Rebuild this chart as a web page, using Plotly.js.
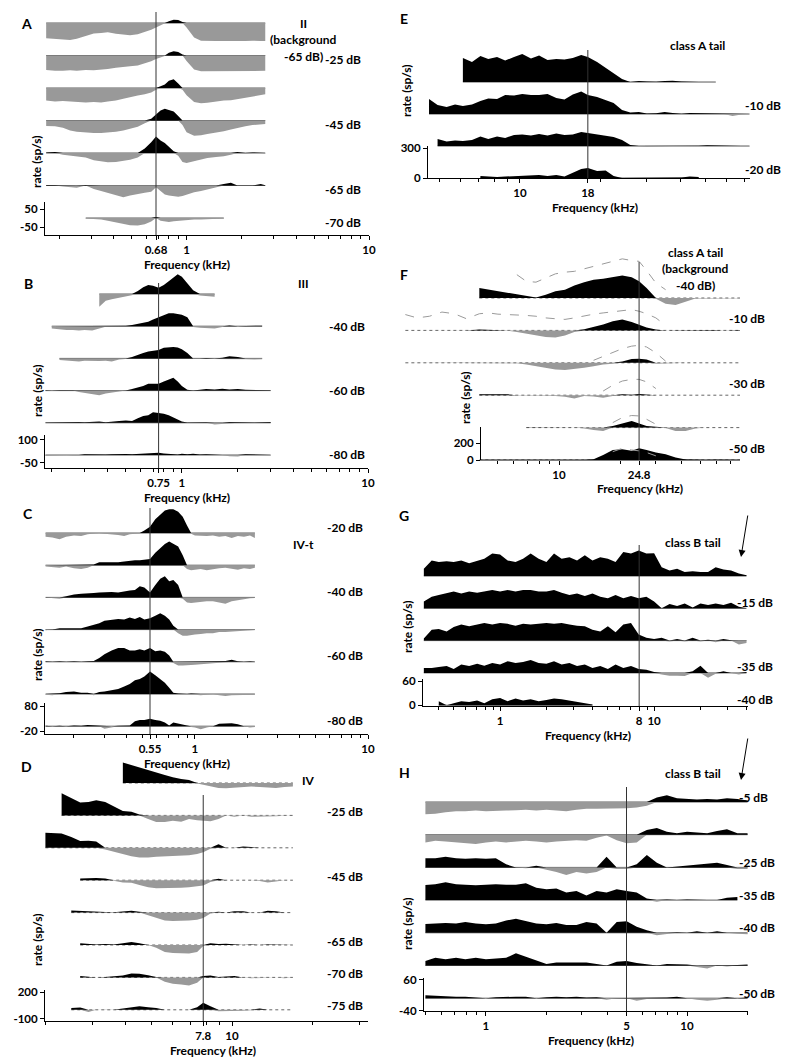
<!DOCTYPE html>
<html>
<head>
<meta charset="utf-8">
<script src="https://cdn.plot.ly/plotly-3.0.1.min.js"></script>
<style>
  html, body { margin: 0; padding: 0; background: #fff; }
  #chart { width: 800px; height: 1061px; }
</style>
</head>
<body>
<div id="chart"></div>
<script>
// ---- data: rate change (sp/s) vs tone frequency (kHz), one row per level ----

var aFreq = [0.17,0.19,0.21,0.23,0.25,0.28,0.31,0.34,0.37,0.41,0.45,0.49,0.54,0.59,0.64,0.68,0.72,0.76,0.8,0.85,0.9,0.95,1.0,1.1,1.2,1.3,1.45,1.6,1.75,1.9,2.1,2.3,2.55,2.7];
var aRates = [
  [-85,-88,-92,-95,-88,-72,-58,-55,-52,-60,-65,-68,-62,-50,-38,-25,-12,-2,10,18,16,5,-25,-80,-98,-100,-100,-100,-98,-100,-100,-98,-100,-100],
  [-80,-85,-85,-82,-85,-80,-82,-80,-75,-68,-62,-60,-55,-45,-32,-20,-10,-3,15,24,20,5,-30,-78,-88,-88,-85,-88,-85,-88,-85,-88,-85,-85],
  [-70,-75,-72,-75,-78,-80,-78,-80,-75,-70,-60,-50,-42,-35,-25,-10,10,20,40,48,25,-10,-40,-78,-85,-82,-75,-70,-68,-62,-55,-48,-40,-35],
  [-30,-32,-40,-55,-62,-68,-70,-70,-68,-62,-55,-45,-35,-15,10,35,55,65,60,50,25,-25,-65,-85,-82,-75,-68,-60,-50,-40,-32,-25,-22,-20],
  [3,5,-10,-15,-18,-25,-40,-48,-52,-50,-45,-38,-25,25,60,92,70,55,35,10,-15,-50,-55,-45,-35,-28,-22,-18,-10,5,-5,3,0,-3],
  [3,2,-5,-10,-12,3,-20,-30,-40,-55,-65,-55,-45,-40,-35,-10,-30,-50,-55,-60,-62,-58,-50,-38,-30,-22,-10,8,15,0,-3,0,8,2],
  [null,null,null,null,null,-3,-5,-8,-15,-25,-32,-40,-42,-35,-20,5,-15,-20,-22,-18,-15,-12,-10,-8,-8,-6,-5,-3,null,null,null,null,null,null]
];
var aLevels = ['', '-25 dB', '', '-45 dB', '', '-65 dB', '-70 dB'];
var aNotes = ['II', '(background', '-65 dB)'];
var aTicks = [0.68, 1, 10];
var aRateTicks = [50, -50];

var bFreq = [0.185,0.2,0.22,0.24,0.26,0.28,0.3,0.33,0.36,0.39,0.42,0.46,0.5,0.54,0.58,0.62,0.66,0.7,0.75,0.8,0.85,0.9,0.95,1.0,1.07,1.15,1.25,1.35,1.5,1.65,1.8,2.0,2.2,2.45,2.7,3.0];
var bRates = [
  [null,null,null,null,null,null,null,null,-85,-45,-35,-25,-18,-8,20,45,60,55,42,60,85,110,130,115,75,25,-10,-15,-18,null,null,null,null,null,null,null],
  [null,-15,-22,-25,-25,-28,-25,-28,-15,-3,-2,-2,3,8,15,25,30,45,60,70,85,85,80,75,60,-5,-10,-12,-15,-5,5,-3,2,-5,3,null],
  [null,null,-10,-12,-18,-20,-15,-18,-18,-15,-20,-8,-3,10,25,35,45,50,55,70,75,75,72,60,35,-5,-5,3,-3,5,15,10,-5,-8,-5,null],
  [3,-3,2,2,3,-10,-15,-20,-30,-20,-15,-5,0,10,20,30,45,45,45,60,75,85,60,30,5,-3,5,10,8,12,8,10,5,3,0,2],
  [2,3,-3,3,5,6,3,5,8,3,5,12,15,12,30,45,50,70,65,60,50,35,20,8,2,3,0,3,-12,-8,5,3,3,2,3,6],
  [-5,-3,-5,0,-3,-3,5,3,5,3,5,3,6,5,8,10,12,15,15,10,8,5,3,8,5,8,3,5,-3,0,-8,-10,5,3,2,-3]
];
var bLevels = ['', '-40 dB', '', '-60 dB', '', '-80 dB'];
var bNotes = ['III'];
var bTicks = [0.75, 1, 10];
var bRateTicks = [100, -50];

var cFreq = [0.137,0.15,0.165,0.18,0.2,0.22,0.24,0.26,0.28,0.3,0.33,0.36,0.39,0.42,0.45,0.48,0.51,0.55,0.59,0.63,0.67,0.71,0.75,0.8,0.85,0.9,0.95,1.0,1.08,1.17,1.27,1.38,1.5,1.63,1.77,1.92,2.08,2.22];
var cRates = [
  [-15,-18,-25,-15,-10,-12,-5,-3,3,-3,-5,-8,-12,-5,-3,0,10,25,55,75,90,95,95,85,65,30,-3,-10,-12,-12,-10,-15,-12,-20,-12,-15,-10,-20],
  [-5,-8,-10,-5,-12,-15,-10,3,12,12,10,12,15,18,20,20,22,25,50,70,85,95,85,75,40,-15,-20,-18,-15,-20,-15,-12,-10,-15,-18,-12,-15,-10],
  [0,-2,-5,5,12,15,18,18,20,22,22,20,25,28,30,45,40,20,50,75,85,65,70,50,-5,-20,-22,-20,-20,-15,-15,-20,-25,-15,-10,-5,-3,-2],
  [-3,0,5,5,2,5,12,18,25,35,40,42,40,48,42,50,40,45,55,65,55,40,15,-15,-25,-25,-22,-20,-18,-15,-15,-10,-10,-8,-5,-5,-3,-2],
  [2,0,2,0,2,0,2,3,15,30,45,55,55,45,45,50,45,55,42,45,40,25,-5,-15,-15,-15,-12,-12,-10,-8,-5,-2,3,8,2,0,2,0],
  [-3,-5,3,8,10,5,5,-5,8,10,15,20,30,40,55,60,70,90,75,60,45,25,5,2,0,0,2,-3,-5,-2,0,-5,-8,-5,-5,-3,-2,-3],
  [2,0,2,-3,3,2,5,3,2,-10,-5,2,3,3,20,25,25,30,25,22,15,3,15,10,5,3,-3,-5,-12,-5,0,10,12,12,8,0,-5,-3]
];
var cLevels = ['-20 dB', '', '-40 dB', '', '-60 dB', '', '-80 dB'];
var cNotes = ['IV-t'];
var cTicks = [0.55, 1, 10];
var cRateTicks = [80, -20];

var dFreq = [2.0,2.15,2.3,2.5,2.7,2.9,3.1,3.35,3.6,3.9,4.2,4.5,4.85,5.2,5.6,6.0,6.45,6.9,7.4,7.8,8.3,8.9,9.5,10.2,11,11.8,12.7,13.6,14.6,15.7,16.9,17.5];
var dRates = [
  [null,null,null,null,null,null,null,null,null,230,200,180,150,115,90,65,45,35,-5,-20,-40,-55,-60,-55,-50,-40,-45,-50,-55,-45,-40,null],
  [null,null,250,200,145,150,170,150,100,50,40,10,-40,-75,-75,-60,-70,-40,-55,-60,-65,-40,0,-15,0,-15,-15,-10,-10,-5,0,null],
  [170,165,160,120,75,80,70,-20,-45,-70,-95,-110,-110,-100,-95,-90,-90,-85,-70,-50,-10,40,0,0,15,10,0,0,0,0,0,null],
  [null,null,null,null,20,25,25,20,-5,-25,-30,-55,-80,-90,-90,-90,-85,-80,-70,-60,-20,15,0,0,0,0,-10,-25,-15,0,0,null],
  [null,null,null,25,20,10,5,8,5,10,20,10,-30,-60,-90,-95,-95,-90,-80,-60,-10,10,0,15,15,0,0,20,15,0,0,null],
  [null,null,null,null,20,15,5,10,5,20,35,20,0,-30,-80,-90,-95,-95,-80,-10,20,10,15,5,0,5,0,5,5,0,0,null],
  [null,null,null,null,15,10,0,5,15,20,45,40,25,5,-50,-70,-80,-90,-60,15,20,5,10,15,0,-10,-5,0,0,-10,0,null],
  [null,null,null,20,25,-25,0,-3,0,15,30,40,30,20,0,0,0,0,30,80,40,-15,-15,-10,-10,-5,15,0,0,0,0,null]
];
var dLevels = ['', '-25 dB', '', '-45 dB', '', '-65 dB', '-70 dB', '-75 dB'];
var dNotes = ['IV'];
var dTicks = [7.8, 10];
var dRateTicks = [200, -100];

var eFreq = [4.55,4.9,5.3,5.7,6.1,6.6,7.1,7.6,8.2,8.8,9.5,10.2,11,11.8,12.7,13.7,14.7,15.8,17,18,19.5,21,22.5,24.2,26,28,30,32.5,35,37.5,40.5,43.5,47,50.5,54.5,58.5,63,68,73];
var eRates = [
  [null,null,null,null,240,200,260,230,250,215,250,280,235,265,220,230,225,240,270,250,200,140,80,30,0,10,5,2,10,12,5,-3,-3,-2,-3,null,null,null,null],
  [150,90,70,95,80,95,130,155,150,190,185,200,190,190,200,160,145,195,225,190,170,140,110,40,15,20,5,8,20,10,3,10,8,5,3,0,-20,-5,0],
  [null,70,45,55,50,60,95,70,95,80,110,115,105,120,105,125,110,115,140,130,115,100,90,60,10,-5,-10,-5,0,5,0,5,3,8,5,0,-2,-3,-2],
  [null,null,null,null,null,null,20,15,10,15,20,25,25,30,20,30,15,50,90,100,70,75,20,0,-3,5,-5,-3,-5,-8,5,15,10,null,null,null,null,null,null]
];
var eLevels = ['', '-10 dB', '', '-20 dB'];
var eNotes = ['class A tail'];
var eTicks = [10, 18];
var eRateTicks = [300, 0];

var fFreq = [1.75,2.0,2.3,2.65,3.05,3.5,4.05,4.5,5.0,5.6,6.2,6.9,7.7,8.6,9.6,10.7,11.9,13.3,14.8,16.5,18.4,20.5,22.8,24.8,27,30,33.5,37.5,42,47,52.5,58.5,65,72,78];
var fRates = [
  [null,null,null,null,null,null,120,100,80,60,40,25,5,40,80,100,150,190,220,230,250,270,250,200,120,-10,-70,-85,-45,-5,-5,-3,-5,-3,-3],
  [0,0,0,0,0,0,10,5,0,-3,-20,-40,-60,-80,-85,-60,-20,15,40,70,110,130,100,70,35,10,-5,2,5,0,3,5,0,3,5],
  [0,0,0,0,0,0,0,0,0,0,-5,-20,-40,-60,-80,-85,-75,-60,-40,-20,-10,15,45,50,40,-10,-5,0,0,0,0,0,0,0,0],
  [null,null,null,null,null,null,10,15,12,10,0,-5,-5,-8,-10,-20,-40,-10,-15,-30,-10,10,5,15,5,-5,-3,0,-3,0,2,0,0,2,0],
  [null,null,null,null,null,null,null,null,null,null,null,5,3,0,0,0,0,-10,-30,-40,20,50,80,50,20,10,-5,-40,-40,-10,0,2,0,0,0],
  [null,null,null,null,null,null,0,0,0,0,0,0,0,0,0,0,0,0,10,60,120,130,110,140,120,90,70,30,5,0,0,3,0,0,0]
];
// dashed curves drawn over panel F
var fDashed = [
  [null,null,null,null,null,null,null,null,null,null,280,200,190,240,290,310,320,350,380,410,440,470,450,440,330,180,100,null,null,null,null,null,null,null,null],
  [190,150,170,220,200,140,200,210,195,190,190,180,170,150,140,132,150,175,195,210,225,240,250,230,200,150,60,null,null,null,null,null,null,null,null],
  [null,null,null,null,null,null,null,null,null,null,null,null,null,null,null,null,null,null,30,80,130,170,200,210,190,120,20,null,null,null,null,null,null,null,null],
  [null,null,null,null,null,null,null,null,null,null,null,null,null,null,null,null,null,null,null,50,120,170,190,190,160,80,null,null,null,null,null,null,null,null,null],
  [null,null,null,null,null,null,null,null,null,null,null,null,null,null,null,null,null,null,null,null,60,120,145,140,100,40,null,null,null,null,null,null,null,null,null],
  [null,null,null,null,null,null,null,null,null,null,null,null,null,null,null,null,null,null,null,null,100,140,120,110,90,50,null,null,null,null,null,null,null,null,null]
];
var fLevels = ['', '-10 dB', '', '-30 dB', '', '-50 dB'];
var fNotes = ['class A tail', '(background', '-40 dB)'];
var fTicks = [10, 24.8];
var fRateTicks = [200, 0];

var gFreq = [0.32,0.36,0.4,0.45,0.5,0.56,0.63,0.71,0.79,0.89,1,1.12,1.26,1.41,1.58,1.78,2,2.24,2.51,2.82,3.16,3.55,3.98,4.47,5.01,5.62,6.31,7.08,7.94,8.91,10,11.2,12.6,14.1,15.8,17.8,20,22.4,25.1,28.2,31.6,35.5,39.8];
var gRates = [
  [18,39,35,37,35,39,32,37,43,56,54,39,35,43,56,43,35,56,43,47,39,52,39,47,43,35,60,56,64,56,57,22,14,18,10,12,10,10,22,16,14,6,2],
  [17,29,33,37,42,37,42,39,42,46,42,46,42,46,46,42,42,46,39,33,37,31,37,29,25,33,25,31,25,29,17,0,11,6,12,2,12,8,12,8,14,4,0],
  [5,27,29,23,34,40,36,40,44,40,44,42,37,42,40,42,44,42,44,40,37,36,27,23,36,21,40,44,15,7,4,7,-2,4,-2,7,-2,2,-4,4,1,-10,-6],
  [12,12,15,17,10,21,17,23,18,25,21,29,25,27,32,25,23,29,21,25,17,21,12,17,10,21,12,17,10,8,2,-4,-7,-7,-8,4,18,-12,-2,4,0,-4,2],
  [null,null,10,-3,5,10,8,12,5,15,18,10,17,12,15,10,13,17,15,12,8,5,2,null,null,null,null,null,null,null,null,null,null,null,null,null,null,null,null,null,null,null,null]
];
var gLevels = ['', '-15 dB', '', '-35 dB', '-40 dB'];
var gNotes = ['class B tail'];
var gTicks = [1, 8, 10];
var gRateTicks = [60, 0];

var hFreq = [0.5,0.56,0.63,0.71,0.79,0.89,1,1.12,1.26,1.41,1.58,1.78,2,2.24,2.51,2.82,3.16,3.55,3.98,4.47,5.01,5.62,6.31,7.08,7.94,8.91,10,11.2,12.6,14.1,15.8,17.8,20];
var hRates = [
  [-40,-38,-33,-30,-30,-28,-30,-30,-28,-27,-25,-28,-25,-28,-30,-25,-22,-22,-22,-20,-20,-18,-12,15,22,12,10,8,10,8,12,10,5],
  [-25,-20,-22,-25,-28,-30,-25,-22,-25,-22,-20,-22,-25,-22,-20,-18,-20,-10,-3,-18,-28,-25,15,22,10,5,10,8,5,12,18,5,5],
  [30,30,35,30,28,30,28,30,10,0,-3,5,-8,-15,-25,-15,-20,-15,35,-5,-5,10,40,15,0,3,8,10,12,15,8,-5,-5],
  [49,52,58,52,50,48,50,52,50,50,55,40,35,38,25,30,15,30,25,35,30,25,5,-5,2,0,2,0,-2,0,8,10,null],
  [29,30,32,30,35,30,28,30,40,46,38,30,28,32,25,25,35,30,0,35,38,20,8,-8,-5,2,0,5,0,5,0,-3,-5],
  [15,25,20,25,20,25,20,22,25,40,28,15,5,10,10,12,10,5,0,12,15,8,5,0,5,5,3,-5,-10,0,-3,2,3],
  [10,8,6,5,5,3,-3,3,5,5,5,-2,3,5,3,5,2,3,-5,0,0,-8,-3,0,2,5,0,-5,-8,-5,3,0,2]
];
var hLevels = ['-5 dB', '', '-25 dB', '-35 dB', '-40 dB', '', '-50 dB'];
var hNotes = ['class B tail'];
var hTicks = [1, 5, 10];
var hRateTicks = [60, -40];

// characteristic frequency marked by the vertical line in each panel
var cfs = [0.68, 0.75, 0.55, 7.8, 18, 24.8, 8, 5];

// ---- layout geometry (pixels in the 800x1061 page) ----
var W = 800, H = 1061;
var FONT = 'Lato, "Liberation Sans", sans-serif';
function fx(p) { return p / W; }
function fy(p) { return 1 - p / H; }

var panels = [
  {letter: 'A', freq: aFreq, rates: aRates, levels: aLevels, notes: aNotes, ticks: aTicks, rateTicks: aRateTicks,
   left: 45, right: 369, lo: 0.1675, hi: 10, base0: 23, step: 32.5, scale: 0.18, axisY: 235, axisTop: 202, cfTop: 12,
   levelX: 323, levelDy: 4, noteX: 303, noteY: 23, letterX: 26, letterY: 23, titleX: 187, rateX: 37, rateY: 162},
  {letter: 'B', freq: bFreq, rates: bRates, levels: bLevels, notes: bNotes, ticks: bTicks, rateTicks: bRateTicks,
   left: 45, right: 368, lo: 0.184, hi: 10, base0: 294, step: 32.2, scale: 0.151, axisY: 468, axisTop: 435, cfTop: 283,
   levelX: 327, levelDy: 0, noteX: 303, noteY: 283, letterX: 28, letterY: 283, titleX: 187, rateX: 37, rateY: 391},
  {letter: 'C', freq: cFreq, rates: cRates, levels: cLevels, notes: cNotes, ticks: cTicks, rateTicks: cRateTicks,
   left: 45, right: 368, lo: 0.136, hi: 10, base0: 533, step: 32.2, scale: 0.25, axisY: 734, axisTop: 703, cfTop: 508,
   levelX: 325, levelDy: -6, noteX: 303, noteY: 544, letterX: 28, letterY: 513, titleX: 187, rateX: 37, rateY: 655},
  {letter: 'D', freq: dFreq, rates: dRates, levels: dLevels, notes: dNotes, ticks: dTicks, rateTicks: dRateTicks,
   left: 45, right: 368, lo: 1.993, hi: 32.3, base0: 783, step: 32.4, scale: 0.089, axisY: 1021, axisTop: 990, cfTop: 795,
   levelX: 325, levelDy: -4, noteX: 308, noteY: 780, letterX: 26, letterY: 766, titleX: 213, rateX: 37, rateY: 940, dotted: true},
  {letter: 'E', freq: eFreq, rates: eRates, levels: eLevels, notes: eNotes, ticks: eTicks, rateTicks: eRateTicks,
   left: 428, right: 750, lo: 4.51, hi: 73.3, base0: 82, step: 32, scale: 0.1, axisY: 178, axisTop: 146, cfTop: 50,
   levelX: 743, levelDy: -9, noteX: 697, noteY: 45, letterX: 404, letterY: 18, titleX: 595, rateX: 407, rateY: 91},
  {letter: 'F', freq: fFreq, rates: fRates, levels: fLevels, notes: fNotes, ticks: fTicks, rateTicks: fRateTicks, dashed: fDashed,
   left: 405, right: 740, lo: 1.743, hi: 77.9, base0: 298, step: 32.4, scale: 0.0833, axisY: 460, axisTop: 427, cfTop: 262,
   levelX: 727, levelDy: -12, noteX: 695, noteY: 252, letterX: 404, letterY: 274, titleX: 640, rateX: 465, rateY: 398,
   dotted: true, yLineX: 480, minorLo: 4.5},
  {letter: 'G', freq: gFreq, rates: gRates, levels: gLevels, notes: gNotes, ticks: gTicks, rateTicks: gRateTicks,
   left: 423, right: 748, lo: 0.316, hi: 40.7, base0: 576, step: 32.3, scale: 0.4, axisY: 706, axisTop: 679, cfTop: 545,
   levelX: 735, levelDy: -6, noteX: 693, noteY: 542, letterX: 404, letterY: 515, titleX: 588, rateX: 407, rateY: 627},
  {letter: 'H', freq: hFreq, rates: hRates, levels: hLevels, notes: hNotes, ticks: hTicks, rateTicks: hRateTicks,
   left: 424, right: 748, lo: 0.492, hi: 20.1, base0: 802, step: 32.7, scale: 0.307, axisY: 1011, axisTop: 978, cfTop: 787,
   levelX: 737, levelDy: -5, noteX: 693, noteY: 773, letterX: 404, letterY: 772, titleX: 591, rateX: 407, rateY: 924}
];

function minorTicks(lo, hi) {
  var out = [];
  for (var d = Math.floor(Math.log10(lo)); d <= Math.ceil(Math.log10(hi)); d++) {
    for (var m = 2; m <= 9; m++) {
      var v = +(m * Math.pow(10, d)).toPrecision(3);
      if (v >= lo && v <= hi) out.push(v);
    }
  }
  return out;
}

function txt(text, x, y, opts) {
  var a = {
    text: text, x: fx(x), y: fy(y), xref: 'paper', yref: 'paper', showarrow: false,
    xanchor: 'center', yanchor: 'middle',
    font: {family: FONT, size: 12, color: '#000', weight: 'bold'}
  };
  for (var k in (opts || {})) a[k] = opts[k];
  return a;
}

var tickFont = {family: FONT, size: 11.5, color: '#000', weight: 'bold'};
var data = [];
var layout = {
  width: W, height: H,
  margin: {l: 0, r: 0, t: 0, b: 0},
  paper_bgcolor: '#fff', plot_bgcolor: 'rgba(0,0,0,0)',
  showlegend: false,
  shapes: [], annotations: []
};

var yi = 0;
panels.forEach(function (p, k) {
  var xn = k + 1;
  var xa = xn === 1 ? 'x' : 'x' + xn;
  var xkey = xn === 1 ? 'xaxis' : 'xaxis' + xn;
  var nRows = p.rates.length;
  var bottomY = null;

  p.rates.forEach(function (row, r) {
    yi++;
    var ya = yi === 1 ? 'y' : 'y' + yi;
    var ykey = yi === 1 ? 'yaxis' : 'yaxis' + yi;
    var b = p.base0 + p.step * r;
    var last = r === nRows - 1;
    var top = last ? p.axisTop : Math.max(0, b - 60);
    var bot = last ? p.axisY : Math.min(H, b + 45);

    var ax = {
      domain: [fy(bot), fy(top)],
      range: [(b - bot) / p.scale, (b - top) / p.scale],
      anchor: xa, showgrid: false, zeroline: false, fixedrange: true
    };
    if (last) {
      bottomY = ya;
      ax.showline = true; ax.linecolor = '#000'; ax.linewidth = 1;
      ax.ticks = 'outside'; ax.ticklen = 4; ax.tickcolor = '#000';
      ax.tickmode = 'array'; ax.tickvals = p.rateTicks;
      ax.ticktext = p.rateTicks.map(String);
      ax.tickfont = tickFont;
      if (p.yLineX) { ax.anchor = 'free'; ax.position = fx(p.yLineX); }
    } else {
      ax.visible = false;
    }
    layout[ykey] = ax;

    var pos = row.map(function (v) { return v === null ? null : Math.max(v, 0); });
    var neg = row.map(function (v) { return v === null ? null : Math.min(v, 0); });
    var zero = row.map(function (v) { return v === null ? null : 0; });

    data.push({x: p.freq, y: zero, xaxis: xa, yaxis: ya, mode: 'lines', hoverinfo: 'skip',
      line: {color: p.dotted ? '#666' : '#333', width: p.dotted ? 1 : 0.8, dash: p.dotted ? 'dot' : 'solid'}});
    data.push({x: p.freq, y: neg, xaxis: xa, yaxis: ya, mode: 'lines', fill: 'tozeroy',
      fillcolor: '#999', line: {width: 0, color: '#999'}, hoverinfo: 'skip'});
    data.push({x: p.freq, y: pos, xaxis: xa, yaxis: ya, mode: 'lines', fill: 'tozeroy',
      fillcolor: '#000', line: {width: 0, color: '#000'}, hoverinfo: 'skip'});
    if (p.dashed) {
      data.push({x: p.freq, y: p.dashed[r], xaxis: xa, yaxis: ya, mode: 'lines', hoverinfo: 'skip',
        line: {color: '#9a9a9a', width: 1, dash: 'dash'}});
    }

    if (p.levels[r]) {
      layout.annotations.push(txt(p.levels[r], p.levelX, b + p.levelDy, {xanchor: 'left'}));
    }
  });

  layout[xkey] = {
    type: 'log',
    domain: [fx(p.left), fx(p.right)],
    range: [Math.log10(p.lo), Math.log10(p.hi)],
    anchor: bottomY,
    showline: !p.yLineX, linecolor: '#000', linewidth: 1,
    showgrid: false, zeroline: false, fixedrange: true,
    ticks: 'outside', ticklen: 4, tickcolor: '#000',
    tickmode: 'array', tickvals: p.ticks, ticktext: p.ticks.map(String),
    tickfont: tickFont,
    minor: {tickmode: 'array', tickvals: minorTicks(p.minorLo || p.lo, p.hi),
            ticks: 'outside', ticklen: 3, tickcolor: '#000', showgrid: false}
  };

  if (p.yLineX) {
    layout.shapes.push({type: 'line', xref: 'paper', yref: 'paper',
      x0: fx(p.yLineX), x1: fx(p.right), y0: fy(p.axisY), y1: fy(p.axisY),
      line: {color: '#000', width: 1}});
  }

  // vertical line at characteristic frequency
  layout.shapes.push({type: 'line', xref: xa, yref: 'paper',
    x0: cfs[k], x1: cfs[k], y0: fy(p.axisY), y1: fy(p.cfTop),
    line: {color: '#333', width: 1}});

  layout.annotations.push(txt(p.letter, p.letterX, p.letterY, {font: {family: FONT, size: 14, color: '#000', weight: 'bold'}}));
  p.notes.forEach(function (t, i) {
    layout.annotations.push(txt(t, p.noteX, p.noteY + 16.5 * i));
  });
  layout.annotations.push(txt('Frequency (kHz)', p.titleX, p.axisY + 29));
  layout.annotations.push(txt('rate (sp/s)', p.rateX, p.rateY, {textangle: -90}));
});

// arrows pointing at the high-frequency tails in G and H
[[741, 557], [741, 780]].forEach(function (tip) {
  layout.annotations.push({x: fx(tip[0]), y: fy(tip[1]), xref: 'paper', yref: 'paper', text: '',
    showarrow: true, arrowhead: 2, arrowsize: 1.4, arrowwidth: 1, arrowcolor: '#000', ax: 7, ay: -43});
});

Plotly.newPlot('chart', data, layout, {staticPlot: true, displayModeBar: false});
</script>
</body>
</html>
